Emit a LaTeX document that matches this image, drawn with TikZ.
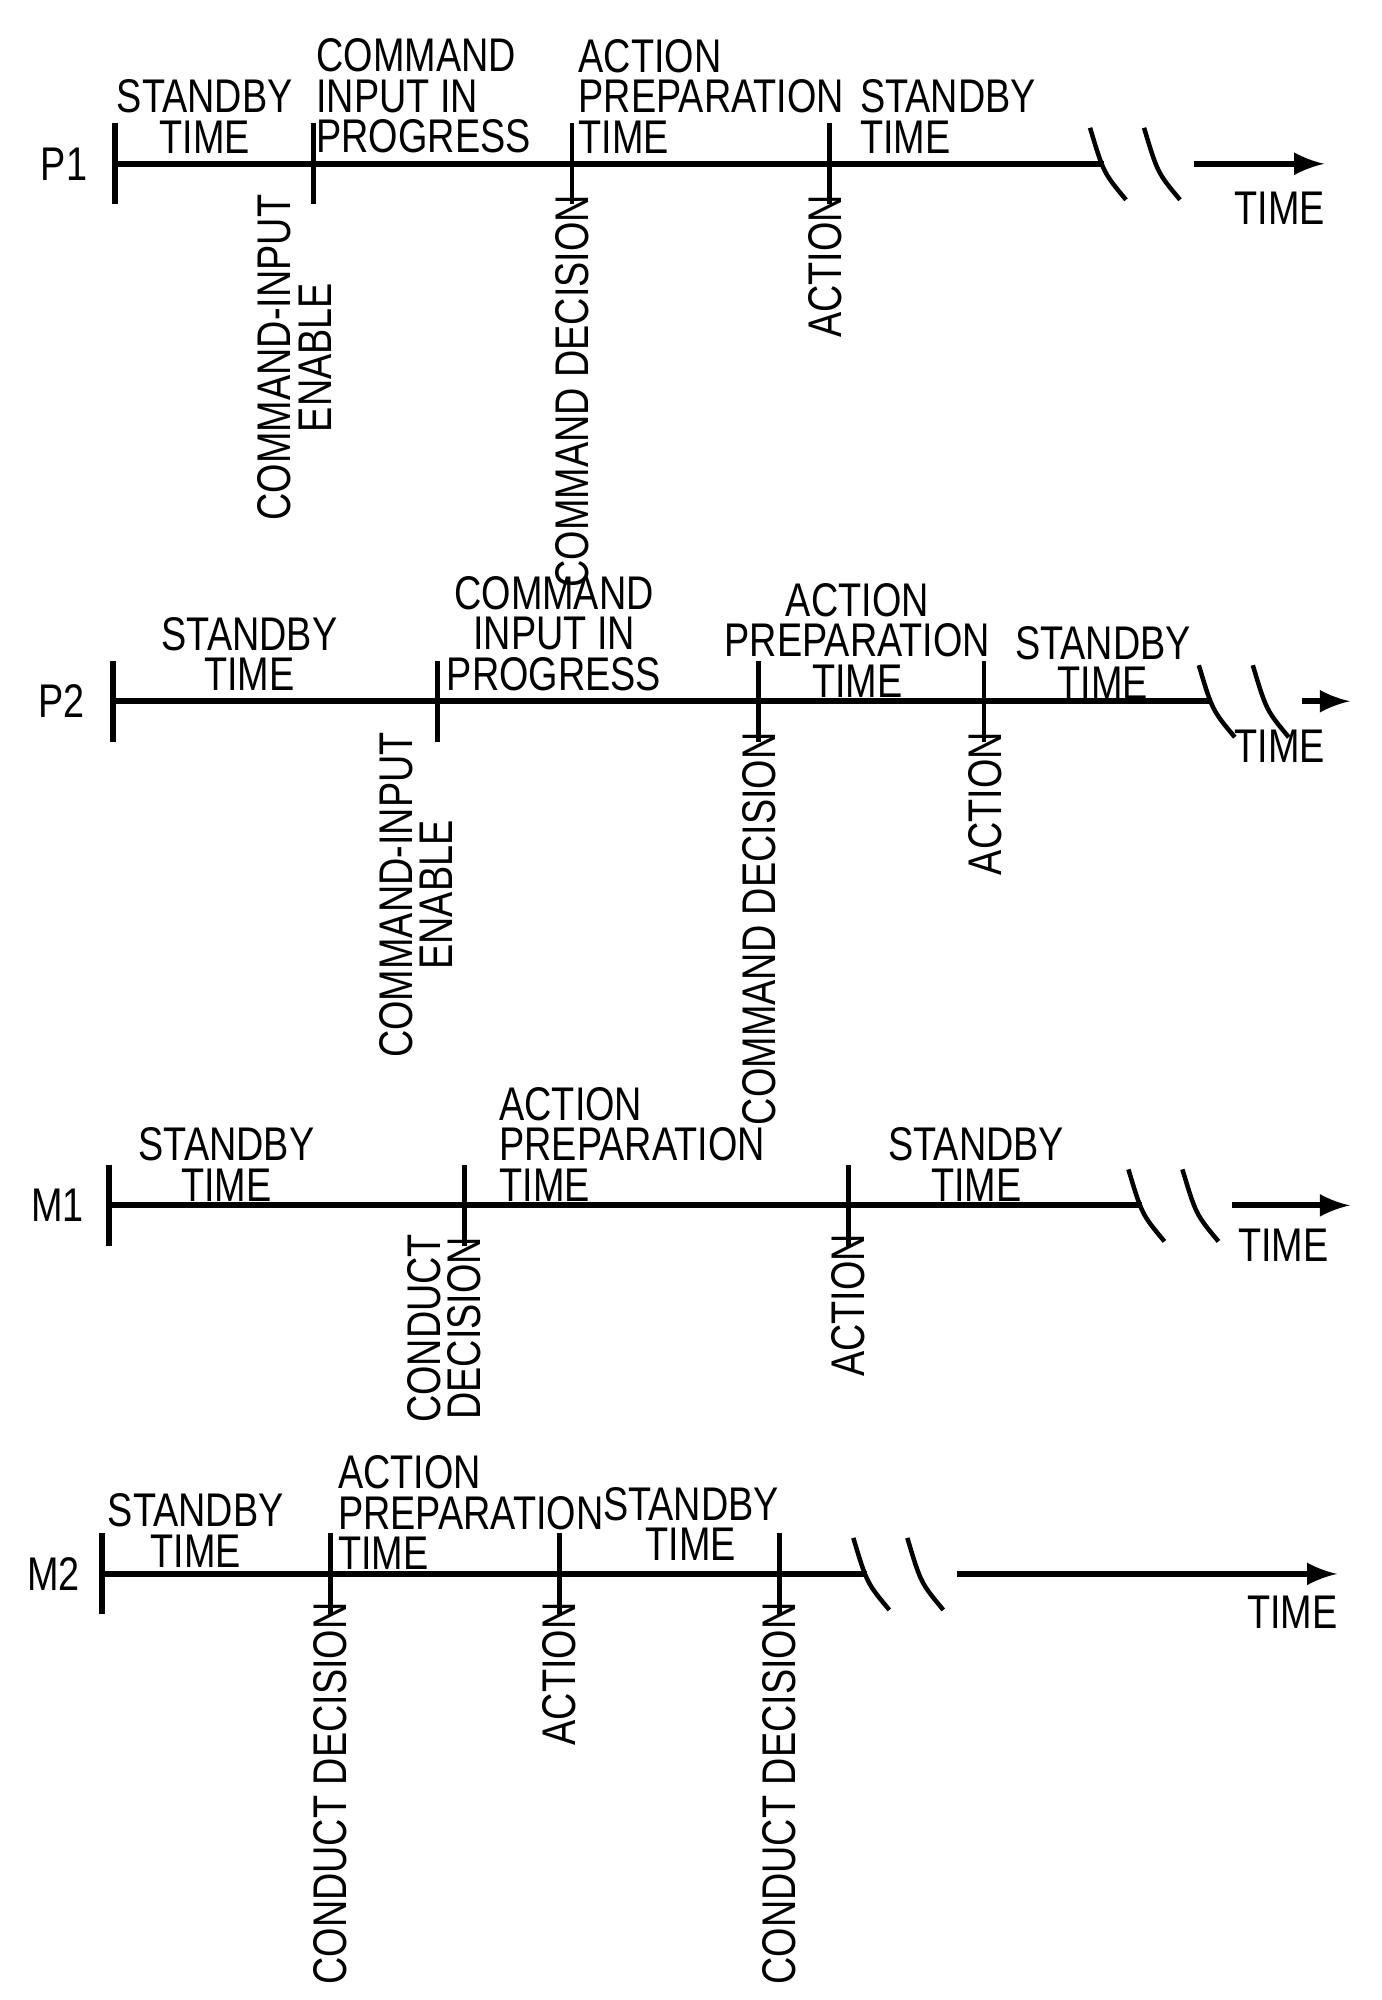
\documentclass[tikz,border=0pt]{standalone}
\usepackage{fontspec}
\setmainfont[FakeStretch=0.8]{Liberation Sans}
\begin{document}
\begin{tikzpicture}[x=0.01cm,y=-0.01cm,line width=1.3pt,
 lab/.style={font=\fontsize{10.5}{9}\selectfont,inner sep=0pt},
 lb/.style={lab,align=left,anchor=south west},
 lc/.style={lab,align=center,anchor=south},
 vl/.style={lab,align=center,rotate=90,anchor=east},
 tick/.style={line width=1.1pt}]
\useasboundingbox (0,0) rectangle (1080,1563);
% helper macro for an axis
\newcommand{\myaxis}[5]{% name, y, x0, xbreak, xend
 \coordinate (#1s) at (#3,#2);
 \coordinate (#1b) at (#4,#2);
 \coordinate (#1e) at (#5,#2);
 \draw ([yshift=-9]#1s) -- ([yshift=9]#1s);
 \draw (#1s) -- ([xshift=-5]#1b);
 \draw[-latex] ([xshift=15]#1b) -- (#1e);
 \draw[line width=1pt] ([xshift=-8,yshift=8]#1b) .. controls ([xshift=-5,yshift=-2]#1b) .. ([xshift=0,yshift=-8]#1b);
 \draw[line width=1pt] ([xshift=4,yshift=8]#1b) .. controls ([xshift=7,yshift=-2]#1b) .. ([xshift=12,yshift=-8]#1b);
}
\newcommand{\mytick}[3]{\coordinate (#1) at (#2,#3); \draw[tick] ([yshift=-9]#1) -- ([yshift=9]#1);}
% P1
\myaxis{pa}{128}{90}{880}{1035}
\node[lab] (pal) at (50,128) {P1};
\node[lab] (pat) at (1000,163) {TIME};
\mytick{pa1}{245}{128}\mytick{pa2}{447}{128}\mytick{pa3}{648}{128}
\node[lc] (pa4) at (160,122) {STANDBY\\TIME};
\node[lb] (pa5) at (245,122) {COMMAND\\INPUT IN\\PROGRESS};
\node[lb] (pa6) at (450,122) {ACTION\\PREPARATION\\TIME};
\node[lb] (pa7) at (670,122) {STANDBY\\TIME};
\node[vl] (pa8) at (230,150) {COMMAND-INPUT\\ENABLE};
\node[vl] (pa9) at (447,150) {COMMAND DECISION};
\node[vl] (pa10) at (645,150) {ACTION};
% P2
\myaxis{pb}{548}{88}{965}{1055}
\node[lab] (pbl) at (48,548) {P2};
\node[lab] (pbt) at (1000,583) {TIME};
\mytick{pb1}{342}{548}\mytick{pb2}{593}{548}\mytick{pb3}{769}{548}
\node[lc] (pb4) at (195,542) {STANDBY\\TIME};
\node[lc] (pb5) at (433,542) {COMMAND\\INPUT IN\\PROGRESS};
\node[lc] (pb6) at (670,547) {ACTION\\PREPARATION\\TIME};
\node[lc] (pb7) at (862,549) {STANDBY\\TIME};
\node[vl] (pb8) at (325,570) {COMMAND-INPUT\\ENABLE};
\node[vl] (pb9) at (593,570) {COMMAND DECISION};
\node[vl] (pb10) at (770,570) {ACTION};
% M1
\myaxis{ma}{942}{85}{910}{1055}
\node[lab] (mal) at (45,942) {M1};
\node[lab] (mat) at (1003,973) {TIME};
\mytick{ma1}{363}{942}\mytick{ma2}{663}{942}
\node[lc] (ma4) at (177,941) {STANDBY\\TIME};
\node[lb] (ma5) at (388,941) {ACTION\\PREPARATION\\TIME};
\node[lc] (ma6) at (763,941) {STANDBY\\TIME};
\node[vl] (ma7) at (347,962) {CONDUCT\\DECISION};
\node[vl] (ma8) at (663,962) {ACTION};
% M2
\myaxis{mb}{1230}{80}{695}{1045}
\node[lab] (mbl) at (42,1230) {M2};
\node[lab] (mbt) at (1010,1260) {TIME};
\mytick{mb1}{258}{1230}\mytick{mb2}{437}{1230}\mytick{mb3}{609}{1230}
\node[lc] (mb4) at (153,1227) {STANDBY\\TIME};
\node[lb] (mb5) at (262,1229) {ACTION\\PREPARATION\\TIME};
\node[lc] (mb6) at (540,1222) {STANDBY\\TIME};
\node[vl] (mb7) at (258,1250) {CONDUCT DECISION};
\node[vl] (mb8) at (437,1250) {ACTION};
\node[vl] (mb9) at (609,1250) {CONDUCT DECISION};
\end{tikzpicture}
\end{document}
